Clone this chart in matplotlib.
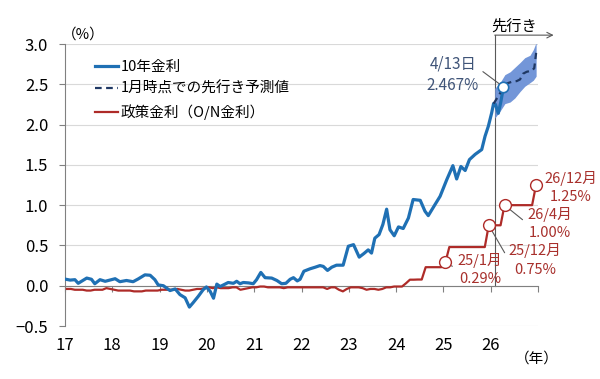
import matplotlib
matplotlib.use("Agg")
import matplotlib.pyplot as plt
import numpy as np

plt.rcParams['font.family'] = ['Noto Sans CJK JP', 'DejaVu Sans']

BLUE = '#1f70b4'
RED = '#ae2b28'
NAVY = '#1f3864'
BAND = '#7396d8'
TXT_BLUE = '#3f5478'
TXT_RED = '#a8302c'

# 10年金利 (decimal year, %)
jgb_x = [2017.02, 2017.11, 2017.21, 2017.28, 2017.46, 2017.56, 2017.63, 2017.74, 2017.85,
         2018.06, 2018.16, 2018.30, 2018.44, 2018.55, 2018.69, 2018.80, 2018.90, 2018.97,
         2019.08, 2019.22, 2019.33, 2019.43, 2019.54, 2019.63, 2019.71, 2019.82, 2019.92, 2019.99,
         2020.07, 2020.14, 2020.21, 2020.28, 2020.35, 2020.45, 2020.56, 2020.63, 2020.70, 2020.77,
         2020.88, 2020.98, 2021.05, 2021.14, 2021.23, 2021.37, 2021.48, 2021.58, 2021.67, 2021.76,
         2021.83, 2021.91, 2021.97, 2022.05, 2022.18, 2022.29, 2022.39, 2022.46, 2022.55, 2022.64,
         2022.74, 2022.88, 2022.99, 2023.10, 2023.22, 2023.32, 2023.41, 2023.48, 2023.55, 2023.64,
         2023.72, 2023.80, 2023.87, 2023.96, 2024.05, 2024.15, 2024.26, 2024.36, 2024.51, 2024.61,
         2024.68, 2024.82, 2024.93, 2025.07, 2025.20, 2025.28, 2025.37, 2025.46, 2025.55, 2025.67,
         2025.81, 2025.88, 2025.95, 2026.02, 2026.06, 2026.10, 2026.16, 2026.21, 2026.27]
jgb_y = [0.08, 0.07, 0.075, 0.03, 0.095, 0.08, 0.025, 0.075, 0.055,
         0.087, 0.05, 0.065, 0.05, 0.085, 0.135, 0.13, 0.075, 0.01,
         0.0, -0.06, -0.04, -0.11, -0.15, -0.265, -0.21, -0.13, -0.05, -0.015,
         -0.07, -0.155, 0.02, -0.01, 0.01, 0.04, 0.03, 0.055, 0.025, 0.04,
         0.035, 0.025, 0.075, 0.165, 0.10, 0.095, 0.065, 0.025, 0.03, 0.08,
         0.10, 0.06, 0.08, 0.18, 0.21, 0.23, 0.25, 0.24, 0.19, 0.23,
         0.255, 0.255, 0.49, 0.51, 0.355, 0.40, 0.445, 0.405, 0.59, 0.635,
         0.76, 0.95, 0.695, 0.62, 0.73, 0.71, 0.84, 1.07, 1.06, 0.925,
         0.87, 1.005, 1.11, 1.315, 1.49, 1.325, 1.48, 1.43, 1.565, 1.63,
         1.69, 1.855, 1.98, 2.145, 2.26, 2.25, 2.14, 2.27, 2.467]

# 1月時点での先行き予測値
fc_x = [2026.06, 2026.18, 2026.27, 2026.34, 2026.44, 2026.55, 2026.62, 2026.68,
        2026.76, 2026.87, 2026.92, 2026.96]
fc_y = [2.26, 2.37, 2.467, 2.51, 2.53, 2.54, 2.56, 2.63, 2.655, 2.67, 2.70, 2.89]
band_x = [2026.085, 2026.196, 2026.30, 2026.41, 2026.51, 2026.62, 2026.72, 2026.83, 2026.90, 2026.96]
band_lo = [2.08, 2.165, 2.26, 2.28, 2.33, 2.41, 2.475, 2.52, 2.55, 2.60]
band_hi = [2.45, 2.52, 2.62, 2.655, 2.71, 2.77, 2.83, 2.86, 2.93, 3.02]

# 政策金利 (O/N金利), monthly 2017/1 - 2026/12
call_rate = [
    -0.04, -0.04, -0.05, -0.05, -0.05, -0.06, -0.06, -0.05, -0.05, -0.05, -0.03, -0.04,  # 2017
    -0.05, -0.06, -0.06, -0.06, -0.06, -0.07, -0.07, -0.07, -0.06, -0.06, -0.06, -0.06,  # 2018
    -0.05, -0.05, -0.05, -0.05, -0.04, -0.05, -0.06, -0.06, -0.05, -0.04, -0.04, -0.03,  # 2019
    -0.02, -0.03, -0.02, -0.03, -0.03, -0.03, -0.02, -0.02, -0.05, -0.04, -0.03, -0.02,  # 2020
    -0.02, -0.01, -0.01, -0.02, -0.02, -0.02, -0.02, -0.03, -0.02, -0.02, -0.02, -0.02,  # 2021
    -0.02, -0.02, -0.02, -0.02, -0.02, -0.02, -0.04, -0.02, -0.02, -0.05, -0.07, -0.04,  # 2022
    -0.02, -0.02, -0.02, -0.03, -0.05, -0.04, -0.04, -0.05, -0.04, -0.02, -0.02, -0.01,  # 2023
    -0.01, -0.01, 0.03, 0.075, 0.075, 0.077, 0.077, 0.23, 0.23, 0.23, 0.23, 0.23,        # 2024
    0.29, 0.48, 0.48, 0.48, 0.48, 0.48, 0.48, 0.48, 0.48, 0.48, 0.48, 0.75,              # 2025
    0.75, 0.75, 0.75, 1.00, 1.00, 1.00, 1.00, 1.00, 1.00, 1.00, 1.00, 1.25,              # 2026
]
call_x = 2017 + (np.arange(len(call_rate)) + 0.5) / 12

years = list(range(2017, 2028))
year_labels = ['17', '18', '19', '20', '21', '22', '23', '24', '25', '26', '']

# red callouts: (month index from 2017/1, label, text position)
red_notes = [
    (96, '25/1月\n0.29%', (2025.77, 0.205)),
    (107, '25/12月\n0.75%', (2026.94, 0.32)),
    (111, '26/4月\n1.00%', (2027.25, 0.77)),
    (119, '26/12月\n1.25%', (2027.70, 1.22)),
]


def main():
    fig, ax = plt.subplots(figsize=(6.0, 3.79), dpi=100)
    fig.subplots_adjust(left=0.1083, right=0.8967, bottom=0.1398, top=0.8839)

    ax.set_xlim(2017, 2027)
    ax.set_ylim(-0.5, 3.0)
    ax.set_yticks(np.arange(-0.5, 3.01, 0.5))
    ax.set_yticklabels(['−0.5', '0.0', '0.5', '1.0', '1.5', '2.0', '2.5', '3.0'])
    ax.set_xticks(years)
    ax.set_xticklabels(year_labels)
    ax.yaxis.grid(True, color='#d9d9d9', lw=0.8)
    ax.set_axisbelow(True)

    for s in ['top', 'right']:
        ax.spines[s].set_visible(False)
    ax.spines['left'].set_color('#808080')
    ax.spines['bottom'].set_position(('data', 0))
    ax.spines['bottom'].set_color('#808080')
    ax.tick_params(axis='y', length=4, color='#808080', pad=8, labelsize=12)
    ax.tick_params(axis='x', length=4, color='#808080', pad=33, labelsize=12)

    ax.fill_between(band_x, band_lo, band_hi, color=BAND, lw=0, zorder=2)
    ax.plot(call_x, call_rate, color=RED, lw=1.6, zorder=3, label='政策金利（O/N金利）')
    ax.plot(jgb_x, jgb_y, color=BLUE, lw=2.3, zorder=4, label='10年金利')
    ax.plot(fc_x, fc_y, color=NAVY, lw=1.6, ls=(0, (3, 2)), zorder=5, label='1月時点での先行き予測値')

    # 先行き marker
    ax.plot([2026.085, 2026.085], [0, 3.11], color='#595959', lw=0.8, clip_on=False, zorder=1)
    ax.annotate('', xy=(2027.33, 3.11), xytext=(2026.085, 3.11), annotation_clip=False,
                arrowprops=dict(arrowstyle='->', color='#595959', lw=0.8, shrinkA=0, shrinkB=0))
    ax.text(2026.49, 3.215, '先行き', fontsize=11, ha='center', va='center', clip_on=False)

    # 4/13 callout
    ax.plot(jgb_x[-1], jgb_y[-1], 'o', ms=7.5, mfc='white', mec=BLUE, mew=1.2, zorder=6)
    ax.annotate('4/13日\n2.467%', xy=(jgb_x[-1], jgb_y[-1]), xytext=(2025.20, 2.62),
                fontsize=11, color=TXT_BLUE, ha='center', va='center', linespacing=1.4,
                arrowprops=dict(arrowstyle='-', color='#595959', lw=0.8, relpos=(1, 0.65),
                                shrinkA=1, shrinkB=4), zorder=6)

    for i, label, pos in red_notes:
        ax.plot(call_x[i], call_rate[i], 'o', ms=8.5, mfc='white', mec=RED, mew=1.0, zorder=6,
                clip_on=False)
        ax.annotate(label, xy=(call_x[i], call_rate[i]), xytext=pos, fontsize=10.5, color=TXT_RED,
                    ha='center', va='center', linespacing=1.4, annotation_clip=False,
                    arrowprops=dict(arrowstyle='-', color='#595959', lw=0.8, relpos=(0, 0.5),
                                    shrinkA=2, shrinkB=5))

    handles, labels = ax.get_legend_handles_labels()
    order = [1, 2, 0]
    ax.legend([handles[k] for k in order], [labels[k] for k in order], loc='upper left',
              bbox_to_anchor=(0.035, 0.99), frameon=False, fontsize=10.5, handlelength=1.6,
              handletextpad=0.2, labelspacing=0.55)

    fig.text(62 / 600, 1 - 35 / 379, '（%）', fontsize=10.5, ha='left', va='center')
    fig.text(515 / 600, 1 - 359 / 379, '（年）', fontsize=10.5, ha='left', va='center')

    fig.savefig('out.png', dpi=100)


if __name__ == '__main__':
    main()
